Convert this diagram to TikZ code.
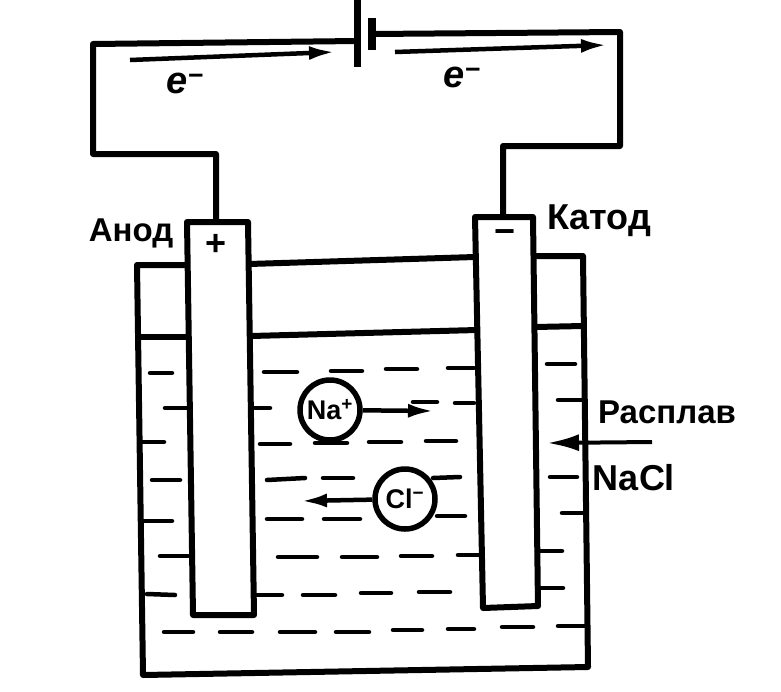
\documentclass[tikz,border=0pt]{standalone}
\usepackage{fontspec}
\setmainfont{Liberation Sans}
\usetikzlibrary{arrows.meta}
\tikzset{
   wire/.style={line width=6pt, color=black, line join=round},
   wall/.style={line width=6pt, color=black, line join=round},
   dashline/.style={line width=4.5pt, color=black, line cap=round},
   current/.style={line width=4.5pt, color=black, -{Latex[length=26pt,width=14pt]}},
   ion/.style={circle, draw=black, line width=5.5pt, minimum size=60pt, inner sep=0pt, font=\bfseries\fontsize{27}{27}\selectfont},
   sign/.style={font=\bfseries\fontsize{33}{33}\selectfont, inner sep=0pt},
   widesign/.style={font=\bfseries\fontsize{36}{36}\selectfont, inner sep=0pt},
   electron/.style={font=\bfseries\itshape\fontsize{38}{38}\selectfont, inner sep=0pt}
}
\begin{document}
\begin{tikzpicture}[x=1pt,y=-1pt]
   \useasboundingbox (0,0) rectangle (781,691);
   \fill[white] (0,0) rectangle (781,691);

   % battery and outer circuit
   \draw[line width=7pt] (357,0) -- (357,67);
   \draw[line width=8pt] (372,18) -- (372,50);
   \draw[wire] (357,41) -- (93,44) -- (93,154) -- (216,154) -- (216,222);
   \draw[wire] (372,34) -- (620,32) -- (620,146) -- (503,146) -- (503,217);
   \draw[current] (130,60) -- (335,52);
   \draw[current] (395,52) -- (607,45);

   % vessel
   \draw[wall] (187,265) -- (137,265) -- (143,675) -- (588,667) -- (583,256) -- (535,256);
   \draw[wall] (249,264) -- (475,257);
   \draw[wall] (139,337) -- (189,337);
   \draw[wall] (251,336) -- (477,330);
   \draw[wall] (535,327) -- (583,326);

   % electrodes
   \draw[wall] (187,222) -- (193,615) -- (254,615) -- (248,222) -- cycle;
   \draw[wall] (475,217) -- (483,608) -- (538,606) -- (533,217) -- cycle;

   % melt
   \foreach \xa/\ya/\xb/\yb in {
      150/373/172/373, 165/408/188/408, 140/442/164/442, 152/480/180/480,
      143/521/172/521, 160/556/188/556, 147/594/175/595,
      264/372/297/372, 331/371/362/371, 386/369/417/369, 448/368/474/368,
      252/408/270/408, 413/402/437/402, 455/403/474/403,
      260/444/290/444, 315/443/347/443, 369/442/401/442, 426/441/456/441,
      267/480/305/478, 323/478/353/478, 433/478/460/477,
      267/519/302/519, 324/519/360/519, 437/516/465/516,
      278/557/317/557, 342/557/377/557, 401/556/432/556, 458/555/480/555,
      255/595/282/595, 303/595/335/595, 361/593/391/593, 419/592/450/592,
      164/632/193/632, 220/632/252/632, 280/632/315/632, 336/632/369/632,
      393/630/422/630, 448/629/474/629, 502/627/533/627, 558/626/585/626,
      547/364/575/364, 558/400/585/400, 550/477/577/477, 562/513/585/513,
      537/551/562/551, 537/588/563/588}
      \draw[dashline] (\xa,\ya) -- (\xb,\yb);

   % ions
   \node[ion] (na) at (330,410) {Na\textsuperscript{+}};
   \node[ion] (cl) at (405,499) {Cl\textsuperscript{−}};
   \coordinate (natip) at (434,411);
   \coordinate (cltip) at (301,501);
   \draw[current] (na) -- (natip);
   \draw[current] (cl) -- (cltip);

   % labels
   \coordinate (meltstart) at (652,442);
   \coordinate (melttip) at (547,443);
   \draw[line width=4pt, -{Latex[length=32pt,width=17pt]}] (meltstart) -- (melttip);
   \node[widesign] (plus) at (216,245) {+};
   \node[widesign] (minus) at (505,237) {−};
   \node[electron] (ea) at (185,83) {e\textsuperscript{−}};
   \node[electron] (eb) at (462,77) {e\textsuperscript{−}};
   \node[sign] (anod) at (131,233) {Анод};
   \node[widesign] (katod) at (599,221) {Катод};
   \node[sign] (melt) at (667,412) {Расплав};
   \node[widesign] (nacl) at (634,478) {NaCl};
\end{tikzpicture}
\end{document}
